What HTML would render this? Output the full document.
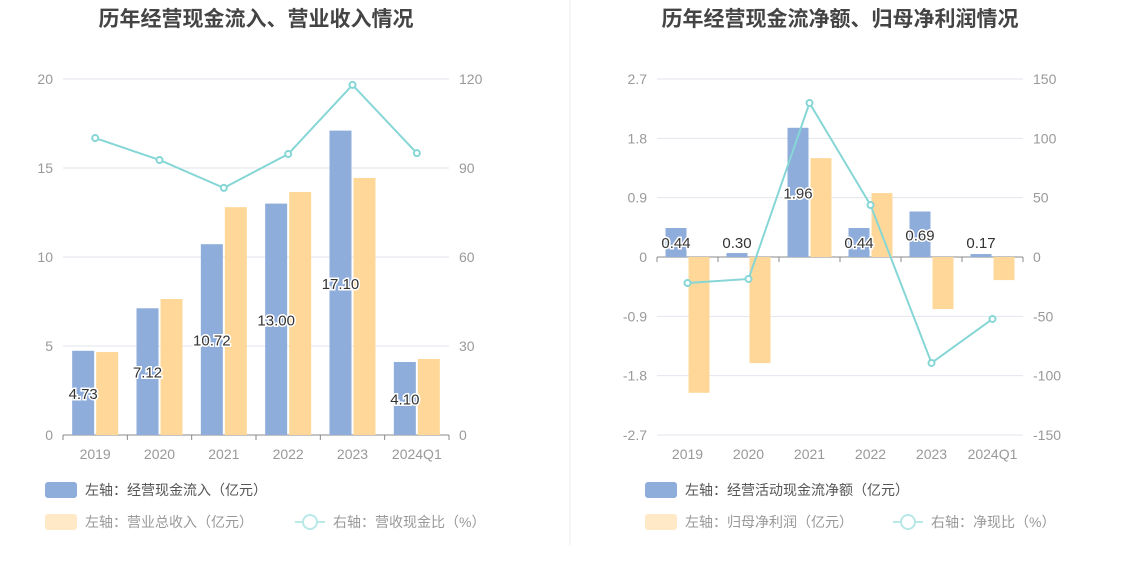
<!DOCTYPE html>
<html><head><meta charset="utf-8"><style>
body{margin:0;background:#fff;font-family:"Liberation Sans","Noto Sans CJK SC",sans-serif;}
svg text{font-family:"Liberation Sans","Noto Sans CJK SC",sans-serif;}
</style></head><body>
<svg id="c" width="1134" height="582" xmlns="http://www.w3.org/2000/svg">
<line x1="570" y1="0" x2="570" y2="545" stroke="#eceef2"/>
</svg>
<script>
const catsL=["2019","2020","2021","2022","2023","2024Q1"];
const inflowL=[4.73,7.12,10.72,13.00,17.10,4.10];
const revenueL=[4.66,7.64,12.8,13.65,14.44,4.27];
const ratioL=[100.1,92.7,83.3,94.7,118,95];
const ticksL=[0,5,10,15,20];
const ticksLR=[0,30,60,90,120];
const catsR=["2019","2020","2021","2022","2023","2024Q1"];
const cashR=[0.44,0.06,1.96,0.44,0.69,0.045];
const cashLabels=["0.44","0.30","1.96","0.44","0.69","0.17"];
const profitR=[-2.06,-1.61,1.50,0.97,-0.79,-0.35];
const ratioR=[-21.9,-18.5,129.8,43.8,-89.3,-52.2];
const ticksR=[-2.7,-1.8,-0.9,0,0.9,1.8,2.7];
const ticksRR=[-150,-100,-50,0,50,100,150];
const svg=document.getElementById('c');
const NS="http://www.w3.org/2000/svg";
function mk(tag,attrs,txt){const e=document.createElementNS(NS,tag);for(const k in attrs)e.setAttribute(k,attrs[k]);if(txt!==undefined)e.textContent=txt;svg.appendChild(e);return e;}
function chart(o){
 const x0=o.x0,x1=o.x1,yT=79,yB=435;
 const bw=(x1-x0)/o.cats.length;
 const yL=v=>yB-(v-o.lmin)/(o.lmax-o.lmin)*(yB-yT);
 const yR=v=>yB-(v-o.rmin)/(o.rmax-o.rmin)*(yB-yT);
 const xc=i=>x0+bw*(i+0.5);
 let t=mk('text',{x:(x0+x1)/2,y:26,'text-anchor':'middle','font-size':21,'font-weight':'bold',fill:'#444'},o.title);
 
 o.lt.forEach(v=>{let g=mk('line',{x1:x0,x2:x1,y1:yL(v),y2:yL(v),stroke:'#e3e6ee'});
  let l=mk('text',{x:x0-10,y:yL(v)+5,'text-anchor':'end','font-size':14,fill:'#999'},o.fmtL(v));});
 o.rt.forEach(v=>{let l=mk('text',{x:x1+10,y:yR(v)+5,'font-size':14,fill:'#999'},String(v));});
 const base=yL(0);
 mk('line',{x1:x0,x2:x1,y1:base,y2:base,stroke:'#888'});
 o.cats.forEach((c,i)=>{mk('line',{x1:x0+bw*i,x2:x0+bw*i,y1:base,y2:base+5,stroke:'#888'});
  let l=mk('text',{x:xc(i),y:459,'text-anchor':'middle','font-size':14,fill:'#999'},c);});
 mk('line',{x1:x1,x2:x1,y1:base,y2:base+5,stroke:'#888'});
 const w=o.barW;
 o.s1.forEach((v,i)=>{const y=yL(v);let r=mk('rect',{x:xc(i)-w-1,y:Math.min(y,base),width:w,height:Math.abs(base-y),fill:'#8eaddb'});});
 o.s2.forEach((v,i)=>{const y=yL(v);let r=mk('rect',{x:xc(i)+1,y:Math.min(y,base),width:w,height:Math.abs(base-y),fill:'#ffd899'});});
 const pts=o.line.map((v,i)=>xc(i)+','+yR(v)).join(' ');
 let pl=mk('polyline',{points:pts,fill:'none',stroke:'#86d6d6','stroke-width':2});
 o.line.forEach((v,i)=>{let c=mk('circle',{cx:xc(i),cy:yR(v),r:3,fill:'#fff',stroke:'#86d6d6','stroke-width':2});});
 o.s1.forEach((v,i)=>{const y=o.labelY(v,yL);let l=mk('text',{x:xc(i)-w/2-1,y:y,'text-anchor':'middle','font-size':15,fill:'#333',stroke:'#fff','stroke-width':3,'paint-order':'stroke'},o.labels?o.labels[i]:v.toFixed(2));});
 const lx=o.legX;
 let r1=mk('rect',{x:lx,y:482,width:32,height:16,rx:3,fill:'#8eaddb'});
 let t1=mk('text',{x:lx+40,y:495,'font-size':14,fill:'#555'},o.leg1);
 let r2=mk('rect',{x:lx,y:514,width:32,height:16,rx:3,fill:'#ffe9c6'});
 let t2=mk('text',{x:lx+40,y:527,'font-size':14,fill:'#999'},o.leg2);
 mk('line',{x1:o.leg3X,x2:o.leg3X+30,y1:522,y2:522,stroke:'#b8e8e8','stroke-width':2});
 mk('circle',{cx:o.leg3X+15,cy:522,r:7,fill:'#fff',stroke:'#b8e8e8','stroke-width':2});
 let t3=mk('text',{x:o.leg3X+38,y:527,'font-size':14,fill:'#999'},o.leg3);
}
chart({x0:63,x1:449,title:'历年经营现金流入、营业收入情况',cats:catsL,s1:inflowL,s2:revenueL,line:ratioL,lmin:0,lmax:20,rmin:0,rmax:120,lt:ticksL,rt:ticksLR,fmtL:v=>String(v),barW:22,
 labelY:(v,yL)=>(yL(v)+435)/2+6,legX:45,leg1:'左轴：经营现金流入（亿元）',leg2:'左轴：营业总收入（亿元）',leg3X:295,leg3:'右轴：营收现金比（%）'});
chart({x0:657,x1:1023,title:'历年经营现金流净额、归母净利润情况',cats:catsR,s1:cashR,s2:profitR,line:ratioR,labels:cashLabels,lmin:-2.7,lmax:2.7,rmin:-150,rmax:150,lt:ticksR,rt:ticksRR,fmtL:v=>v.toFixed(1).replace(/^0\.0$/,'0').replace('-0.0','0'),barW:21,
 labelY:(v,yL)=>Math.min((yL(v)+257)/2+6,248),legX:645,leg1:'左轴：经营活动现金流净额（亿元）',leg2:'左轴：归母净利润（亿元）',leg3X:893,leg3:'右轴：净现比（%）'});
</script>
</body></html>
